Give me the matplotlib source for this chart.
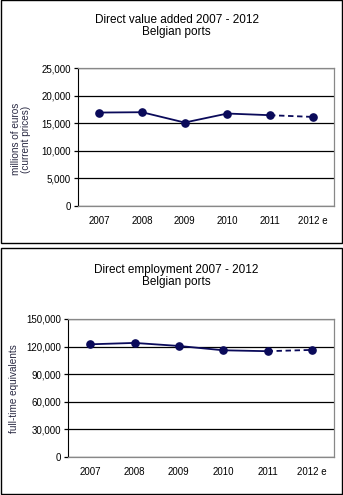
import matplotlib.pyplot as plt
from matplotlib.patches import Rectangle
from matplotlib.ticker import FuncFormatter

years = ['2007', '2008', '2009', '2010', '2011', '2012 e']
value_added = [16930, 16990, 15120, 16750, 16450, 16140]
employment = [122500, 124000, 120700, 116000, 115000, 116400]

plt.rcParams['font.family'] = ['Liberation Sans', 'DejaVu Sans']

W, H = 343, 495
fig = plt.figure(figsize=(W / 100, H / 100), dpi=100)
navy = '#0a0a5a'


def px_axes(x0, y0, x1, y1):
    # pixel box (top-left origin) -> figure fraction
    return fig.add_axes([x0 / W, 1 - y1 / H, (x1 - x0) / W, (y1 - y0) / H])


def panel(ax, vals, ymax, step, title, ylabel, title_y):
    x = list(range(len(vals)))
    # actual values solid, estimate dashed
    ax.plot(x[:-1], vals[:-1], color=navy, lw=1.3, marker='o', ms=5.2, zorder=3)
    ax.plot(x[-2:], vals[-2:], color=navy, lw=1.3, ls=(0, (3, 2)), zorder=3)
    ax.plot(x[-1], vals[-1], color=navy, marker='o', ms=5.2, zorder=3)
    ax.set_xlim(-0.5, len(vals) - 0.5)
    ax.set_ylim(0, ymax)
    ax.set_yticks(range(0, ymax + 1, step))
    ax.yaxis.set_major_formatter(FuncFormatter(lambda v, p: f'{int(v):,}'))
    ax.set_xticks(x)
    ax.set_xticklabels(years)
    ax.grid(axis='y', color='black', lw=0.9)
    ax.set_axisbelow(True)
    ax.tick_params(axis='x', length=0, labelsize=7, pad=7)
    ax.tick_params(axis='y', length=3, width=0.9, labelsize=7, pad=2)
    ax.spines['left'].set_color('black')
    for s in ['top', 'right', 'bottom']:
        ax.spines[s].set_color('#888888')
        ax.spines[s].set_linewidth(0.9)
    fig.text(0.5 + 5 / W, 1 - title_y / H, title, ha='center', va='center',
             fontsize=8.5, linespacing=1.1)
    ax.set_ylabel(ylabel, fontsize=7.2, color='#2b2b44', linespacing=0.95)


ax1 = px_axes(78, 68, 334, 206)
panel(ax1, value_added, 25000, 5000,
      'Direct value added 2007 - 2012\nBelgian ports',
      'millions of euros\n(current prices)', 26)
ax1.yaxis.set_label_coords(31 / W, 1 - 139 / H, transform=fig.transFigure)

ax2 = px_axes(68, 319, 334, 457)
panel(ax2, employment, 150000, 30000,
      'Direct employment 2007 - 2012\nBelgian ports',
      'full-time equivalents', 276)
ax2.yaxis.set_label_coords(19 / W, 1 - 389 / H, transform=fig.transFigure)

# outer panel borders
for y0, y1 in [(0.5, 243.5), (247.5, 493.5)]:
    fig.patches.append(Rectangle((0.5 / W, 1 - y1 / H), (W - 1.5) / W, (y1 - y0) / H,
                                 transform=fig.transFigure, fill=False,
                                 edgecolor='black', lw=1.0))

fig.savefig('out.png', dpi=100)
